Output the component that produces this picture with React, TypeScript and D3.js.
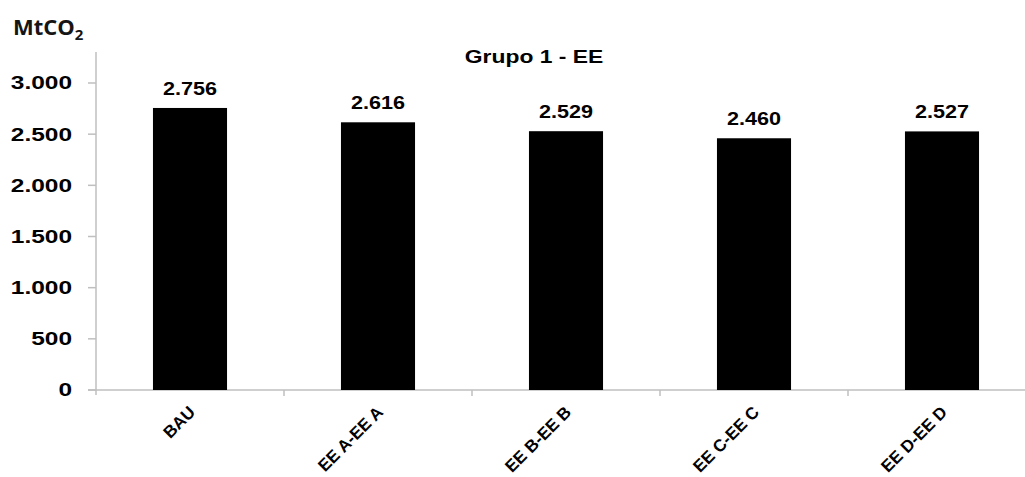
import React from "react";
import * as d3 from "d3";

const categories = ["BAU", "EE A-EE A", "EE B-EE B", "EE C-EE C", "EE D-EE D"];
const values = [2756, 2616, 2529, 2460, 2527];
const yTicks = [0, 500, 1000, 1500, 2000, 2500, 3000];
const title = "Grupo 1 - EE";

const W = 1025;
const H = 477;
const font = "'Liberation Sans', Arial, sans-serif";

function SText(props: { x: number; y: number; sx: number; anchor: string; size: number; children: React.ReactNode; dy?: string }) {
  return (
    <text
      transform={`translate(${props.x},${props.y}) scale(${props.sx},1)`}
      textAnchor={props.anchor}
      dy={props.dy}
      fontFamily={font}
      fontWeight="bold"
      fontSize={props.size}
      fill="#000"
    >
      {props.children}
    </text>
  );
}

export default function App() {
  const locale = d3.formatLocale({ decimal: ",", thousands: ".", grouping: [3], currency: ["", ""] });
  const fmt = locale.format(",d");
  const x = d3.scaleBand<string>().domain(categories).range([96, 1036]).paddingInner(0.606).paddingOuter(0.303);
  const y = d3.scaleLinear().domain([0, 3000]).range([390, 83]);
  const axisColor = "#bfbfbf";
  const boundaries = categories.map((_, i) => 96 + (i * (1036 - 96)) / categories.length);
  return (
    <svg width={W} height={H} style={{ display: "block", position: "absolute", left: 0, top: 0 }}>
      <rect width={W} height={H} fill="#fff" />
      <text x={13} y={35} fontFamily="'Open Sans', sans-serif" fontWeight="bold" fontSize={22} fill="#151515">
        MtCO<tspan fontSize={15} dy={5}>2</tspan>
      </text>
      <SText x={534} y={63} sx={1.27} anchor="middle" size={18}>
        {title}
      </SText>
      {/* y axis */}
      <line x1={96} x2={96} y1={52} y2={395} stroke={axisColor} strokeWidth={1.5} />
      {yTicks.map((t) => (
        <g key={t}>
          <line x1={88} x2={96} y1={y(t)} y2={y(t)} stroke={axisColor} strokeWidth={1.5} />
          <SText x={72} y={y(t)} sx={1.36} anchor="end" size={18} dy="0.36em">
            {fmt(t)}
          </SText>
        </g>
      ))}
      {/* x axis */}
      <line x1={88} x2={W} y1={390} y2={390} stroke={axisColor} strokeWidth={1.5} />
      {boundaries.slice(1).map((b, i) => (
        <line key={i} x1={b} x2={b} y1={390} y2={396} stroke={axisColor} strokeWidth={1.5} />
      ))}
      {categories.map((c, i) => (
        <g key={c}>
          <rect x={x(c)} y={y(values[i])} width={x.bandwidth()} height={390 - y(values[i])} fill="#000" />
          <SText x={(x(c) as number) + x.bandwidth() / 2} y={y(values[i]) - 13} sx={1.2} anchor="middle" size={18}>
            {fmt(values[i])}
          </SText>
          <text
            transform={`translate(${(x(c) as number) + x.bandwidth() / 2 + 2},${409}) rotate(-45)`}
            textAnchor="end"
            dy="0.35em"
            fontFamily={font}
            fontWeight="bold"
            fontSize={17}
            fill="#000"
          >
            {c}
          </text>
        </g>
      ))}
    </svg>
  );
}
